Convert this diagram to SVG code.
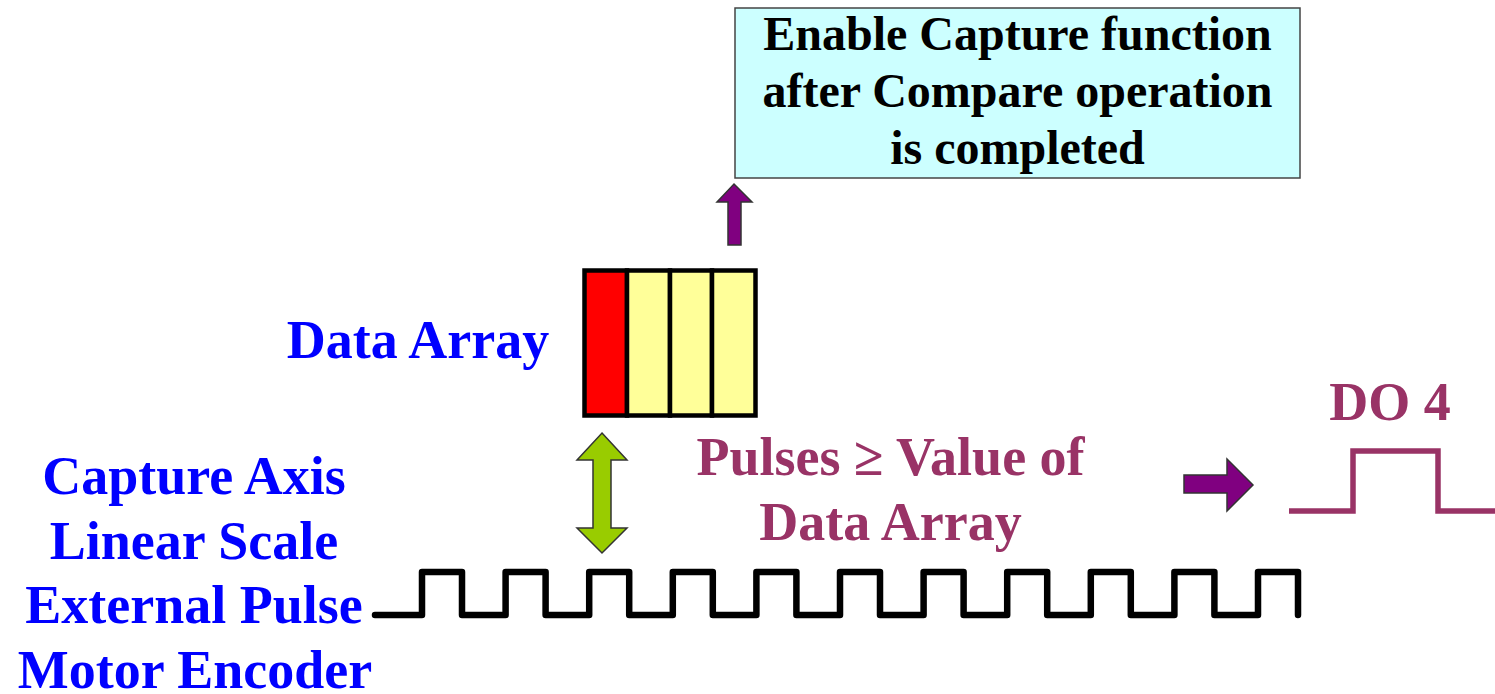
<svg xmlns="http://www.w3.org/2000/svg" width="1495" height="694" viewBox="0 0 1495 694">
<style>
text{font-family:"Liberation Serif","Times New Roman",serif;font-weight:bold;}
.blue{fill:#0000FF;font-size:54px;}
.plum{fill:#993366;font-size:54px;}
.note{fill:#000;font-size:48px;}
.cell{stroke:#000;stroke-width:4.5;}
.arr{stroke:#333;stroke-width:1.5;stroke-linejoin:miter;}
</style>
<rect width="1495" height="694" fill="#FFFFFF"/>
<g id="note">
<rect x="735" y="8" width="565" height="170" fill="#CCFFFF" stroke="#444" stroke-width="1.5"/>
<text class="note" x="1017.5" y="50" text-anchor="middle">Enable Capture function</text>
<text class="note" x="1017.5" y="107" text-anchor="middle">after Compare operation</text>
<text class="note" x="1017.5" y="164" text-anchor="middle">is completed</text>
</g>
<g id="data-array">
<rect x="584.5" y="270.5" width="171" height="145" fill="#000" rx="2"/>
<rect class="cell" x="584.5" y="270.5" width="42.5" height="145" fill="#FF0000"/>
<rect class="cell" x="627" y="270.5" width="43" height="145" fill="#FFFF99"/>
<rect class="cell" x="670" y="270.5" width="42" height="145" fill="#FFFF99"/>
<rect class="cell" x="712" y="270.5" width="43.5" height="145" fill="#FFFF99"/>
</g>
<g id="data-array-label">
<text class="blue" x="418" y="358" text-anchor="middle">Data Array</text>
</g>
<g id="source-labels">
<text class="blue" x="194" y="494" text-anchor="middle">Capture Axis</text>
<text class="blue" x="194" y="559" text-anchor="middle">Linear Scale</text>
<text class="blue" x="194" y="623" text-anchor="middle">External Pulse</text>
<text class="blue" x="195" y="688" text-anchor="middle">Motor Encoder</text>
</g>
<g id="pulse-train">
<path d="M375,615 H422 V572 H462 V615 H505.6 V572 H545.6 V615 H589.2 V572 H629.2 V615 H672.8 V572 H712.8 V615 H756.4 V572 H796.4 V615 H840 V572 H880 V615 H923.6 V572 H963.6 V615 H1007.2 V572 H1047.2 V615 H1090.8 V572 H1130.8 V615 H1174.4 V572 H1214.4 V615 H1258 V572 H1298 V615" fill="none" stroke="#000" stroke-width="6.5" stroke-linejoin="round" stroke-linecap="round"/>
</g>
<g id="compare-label">
<text class="plum" x="890.5" y="475" text-anchor="middle">Pulses ≥ Value of</text>
<text class="plum" x="890.5" y="540" text-anchor="middle">Data Array</text>
</g>
<g id="do4">
<text class="plum" x="1390" y="420" text-anchor="middle">DO 4</text>
<path d="M1289,511 H1353 V451 H1438 V511 H1495" fill="none" stroke="#993366" stroke-width="5.5"/>
</g>
<g id="connectors">
<polygon class="arr" fill="#99CC00" points="602,433 627,460 611,460 611,528 627,528 602,553 577,528 593,528 593,460 577,460"/>
<polygon class="arr" fill="#800080" points="734,184 752,202 741,202 741,245 728,245 728,202 717,202"/>
<polygon class="arr" fill="#800080" points="1184,475 1227,475 1227,459 1253,485 1227,511 1227,493 1184,493"/>
</g>
</svg>
